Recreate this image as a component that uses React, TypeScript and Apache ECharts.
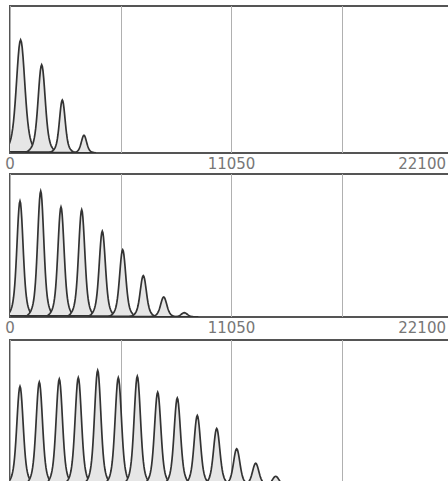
import React, { useEffect, useRef } from "react";
import * as echarts from "echarts";

// Peak positions (x units), heights (% of panel), widths (sigma, x units)
const AXIS_MAX = 22100;
const AXIS_STEP = 5525;
const LABELED_TICKS = [0, 11050, 22100];

const panel1Pos = [530, 1580, 2610, 3690];
const panel1Height = [77, 60, 36, 12];
const panel1Width = [190, 160, 130, 120];

const panel2Pos = [499, 1532, 2544, 3577, 4605, 5622, 6650, 7668, 8695];
const panel2Height = [81, 88, 77, 75, 60, 47, 29, 14, 3];
const panel2Width = [140, 140, 140, 140, 140, 140, 140, 140, 140];

const panel3Pos = [499, 1462, 2459, 3407, 4375, 5403, 6351, 7368, 8346, 9344, 10312, 11309, 12257, 13255];
const panel3Height = [68, 71, 73, 74, 79, 74, 75, 64, 60, 48, 39, 25, 15, 6];
const panel3Width = [145, 145, 145, 145, 145, 145, 145, 145, 145, 145, 145, 145, 145, 145];

const panels = [
  { pos: panel1Pos, h: panel1Height, w: panel1Width },
  { pos: panel2Pos, h: panel2Height, w: panel2Width },
  { pos: panel3Pos, h: panel3Height, w: panel3Width },
];

const gridBoxes = [
  { left: 10, top: 6, width: 443, height: 147 },
  { left: 10, top: 174, width: 443, height: 143 },
  { left: 10, top: 340, width: 443, height: 145 },
];

function renderPeak(params: any, api: any) {
  const pos = api.value(0);
  const h = api.value(1);
  const s = api.value(2);
  const N = 48;
  const pts: number[][] = [];
  for (let i = 0; i <= N; i++) {
    const dx = -5 * s + (10 * s * i) / N;
    const r = dx / s;
    const y = h * (0.78 * Math.exp(-(r * r) / 2) + 0.22 * Math.exp(-(r * r) / 8));
    pts.push(api.coord([pos + dx, y]));
  }
  return {
    type: "polygon",
    shape: { points: pts },
    style: { fill: "#e6e6e6", stroke: "#333333", lineWidth: 1.7 },
  };
}

const labelFont = { color: "#777777", fontFamily: "DejaVu Sans", fontSize: 15 };

export default function App() {
  const ref = useRef<HTMLDivElement>(null);
  useEffect(() => {
    if (!ref.current) return;
    const chart = echarts.init(ref.current, undefined, { renderer: "svg" });
    const option: any = {
      animation: false,
      backgroundColor: "#ffffff",
      grid: gridBoxes.map((g) => ({
        ...g,
        show: true,
        borderColor: "#555555",
        borderWidth: 2,
        backgroundColor: "transparent",
      })),
      xAxis: gridBoxes.map((_, i) => ({
        type: "value",
        gridIndex: i,
        min: 0,
        max: AXIS_MAX,
        interval: AXIS_STEP,
        axisLine: { show: false },
        axisTick: { show: false },
        splitLine: { show: true, lineStyle: { color: "#b0b0b0", width: 1 } },
        axisLabel: {
          show: i < 2,
          showMinLabel: true,
          showMaxLabel: true,
          alignMaxLabel: "right",
          margin: 3,
          ...labelFont,
          rich: { m: { ...labelFont, padding: [0, 7, 0, 0] } },
          formatter: (v: number) =>
            v === AXIS_MAX ? "{m|" + v + "}" : LABELED_TICKS.includes(v) ? String(v) : "",
        },
      })),
      yAxis: gridBoxes.map((_, i) => ({
        type: "value",
        gridIndex: i,
        min: 0,
        max: 100,
        show: false,
        splitLine: { show: false },
      })),
      series: panels.map((p, i) => ({
        type: "custom",
        xAxisIndex: i,
        yAxisIndex: i,
        clip: true,
        renderItem: renderPeak,
        data: p.pos.map((x, k) => [x, p.h[k], p.w[k]]),
      })),
    };
    chart.setOption(option);
    return () => chart.dispose();
  }, []);
  return (
    <div
      ref={ref}
      style={{ position: "fixed", left: 0, top: 0, width: 460, height: 500 }}
    />
  );
}
